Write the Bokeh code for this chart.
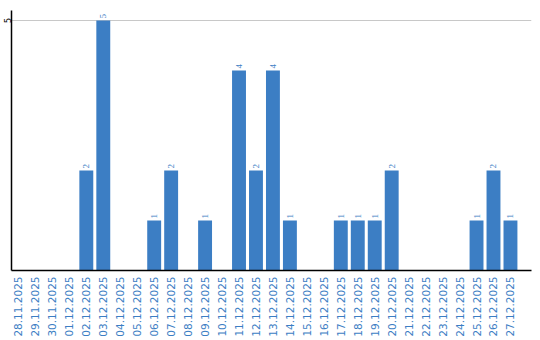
import math
from bokeh.plotting import figure
from bokeh.models import Range1d, FixedTicker, ColumnDataSource, LabelSet
from bokeh.embed import file_html
from bokeh.resources import INLINE

dates = ["28.11.2025", "29.11.2025", "30.11.2025", "01.12.2025", "02.12.2025",
         "03.12.2025", "04.12.2025", "05.12.2025", "06.12.2025", "07.12.2025",
         "08.12.2025", "09.12.2025", "10.12.2025", "11.12.2025", "12.12.2025",
         "13.12.2025", "14.12.2025", "15.12.2025", "16.12.2025", "17.12.2025",
         "18.12.2025", "19.12.2025", "20.12.2025", "21.12.2025", "22.12.2025",
         "23.12.2025", "24.12.2025", "25.12.2025", "26.12.2025", "27.12.2025"]
counts = [0, 0, 0, 0, 2, 5, 0, 0, 1, 2, 0, 1, 0, 4, 2, 4, 1, 0, 0, 1, 1, 1, 2, 0, 0, 0, 0, 1, 2, 1]
y_ticks = [5]

BLUE = "#3c7ec4"
FONT = "DejaVu Sans"
xs = list(range(len(dates)))
src = ColumnDataSource(dict(x=xs, top=counts))
nz = [i for i, c in enumerate(counts) if c > 0]
lab_src = ColumnDataSource(dict(x=[xs[i] for i in nz], y=[counts[i] for i in nz],
                                t=[str(counts[i]) for i in nz]))

p = figure(width=540, height=340, output_backend="svg", toolbar_location=None,
           x_range=Range1d(-0.41, 30.24), y_range=Range1d(0, 5.2),
           min_border_left=10, min_border_right=9, min_border_top=10, min_border_bottom=70)
p.outline_line_color = None
p.background_fill_color = "white"

p.vbar(x="x", top="top", bottom=0, width=0.82, source=src, fill_color=BLUE, line_color=None)

labels = LabelSet(x="x", y="y", text="t", source=lab_src, angle=math.pi / 2,
                  text_align="left", text_baseline="middle", y_offset=2,
                  text_font=FONT, text_font_size="9px", text_color=BLUE)
p.add_layout(labels)

p.xaxis.ticker = FixedTicker(ticks=xs)
p.xaxis.major_label_overrides = {i: d for i, d in enumerate(dates)}
p.xaxis.major_label_orientation = math.pi / 2
p.xaxis.major_label_text_color = BLUE
p.xaxis.major_label_text_font = FONT
p.xaxis.major_label_text_font_size = "10.5px"
p.xaxis.major_label_standoff = 6
p.xaxis.major_tick_out = 0
p.xaxis.major_tick_in = 0
p.xaxis.major_tick_line_color = None
p.xaxis.minor_tick_line_color = None
p.xaxis.axis_line_color = "black"
p.xaxis.axis_line_width = 1.5

p.yaxis.ticker = FixedTicker(ticks=y_ticks)
p.yaxis.major_label_orientation = "parallel"
p.yaxis.major_label_text_color = "black"
p.yaxis.major_label_text_font = FONT
p.yaxis.major_label_text_font_size = "8px"
p.yaxis.major_label_standoff = 1
p.yaxis.major_tick_out = 0
p.yaxis.major_tick_in = 0
p.yaxis.major_tick_line_color = None
p.yaxis.minor_tick_line_color = None
p.yaxis.axis_line_color = "black"
p.yaxis.axis_line_width = 1.5

p.xgrid.grid_line_color = None
p.ygrid.ticker = FixedTicker(ticks=y_ticks)
p.ygrid.grid_line_color = "#c8c8c8"
p.ygrid.grid_line_width = 1

open("out.html", "w").write(file_html(p, INLINE))
